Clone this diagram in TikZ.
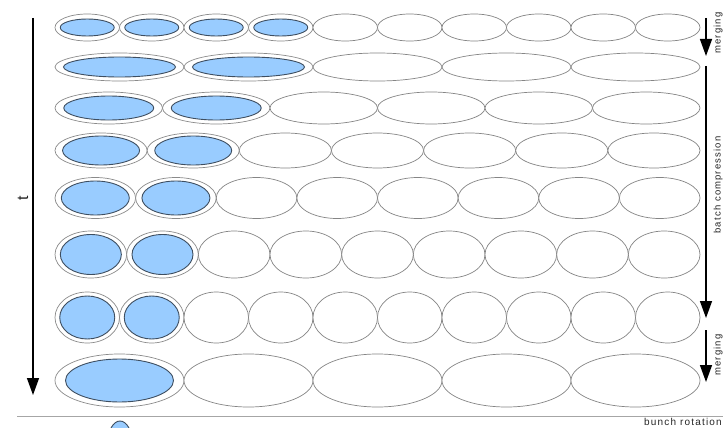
\documentclass[tikz,border=0pt]{standalone}
\usepackage{fontspec}
\newfontfamily\lab[LetterSpace=12]{Liberation Sans}
\usetikzlibrary{shapes.geometric,arrows.meta}
\definecolor{bunchblue}{HTML}{99CCFF}
\definecolor{bunchedge}{HTML}{3E4E60}
\definecolor{ringgray}{HTML}{8A8A8A}
\definecolor{slotgray}{HTML}{858585}
\begin{document}
\begin{tikzpicture}[x=1pt,y=1pt,
  slot/.style={ellipse, draw=slotgray, line width=0.7pt, fill=white, inner sep=0pt, outer sep=0pt},
  ring/.style={ellipse, draw=ringgray, line width=0.7pt, fill=white, inner sep=0pt, outer sep=0pt},
  bunch/.style={ellipse, draw=bunchedge, line width=0.9pt, fill=bunchblue, inner sep=0pt, outer sep=0pt},
  flowarrow/.style={line width=1.4pt, -{Triangle[length=17pt,width=12pt]}},
  lbl/.style={font=\lab\fontsize{11}{13}\selectfont, text=black!85, inner sep=0pt},
  sidelbl/.style={font=\lab\fontsize{9.5}{11}\selectfont, text=black!85, inner sep=0pt, rotate=90, anchor=base}
]
\fill[white] (0,0) rectangle (723,-428);
\useasboundingbox (0,0) rectangle (723,-428);

\foreach \r/\yy/\hh/\n/\nb/\iw/\ih in {1/27.5/27/10/4/54/17, 2/67/28/5/2/112/20, 3/108/32/6/2/90/24, 4/150.5/35/7/2/77/29, 5/198/41/8/2/68/34, 6/254.5/47/9/2/61/40, 7/317.5/51/10/2/55/43, 8/380.5/53/5/1/108/43}{
  \pgfmathsetmacro\w{645/\n}
  \foreach \i in {1,...,\n}{
    \pgfmathsetmacro\cx{55+(\i-0.5)*\w}
    \ifnum\i>\nb
      \node[slot, minimum width=\w pt, minimum height=\hh pt] (s\r-\i) at (\cx,-\yy) {};
    \else
      \node[ring, minimum width=\w pt, minimum height=\hh pt] (s\r-\i) at (\cx,-\yy) {};
      \node[bunch, minimum width=\iw pt, minimum height=\ih pt] (b\r-\i) at (\cx,-\yy) {};
    \fi
  }
}

% time axis
\coordinate (tTop) at (33,-18);
\coordinate (tEnd) at (33,-395);
\draw[flowarrow] (tTop) -- (tEnd);
\node[lbl, font=\lab\fontsize{16}{18}\selectfont, rotate=90, anchor=base] (tlab) at (28,-198) {t};

% right-hand process arrows
\coordinate (m1a) at (706,-18);
\coordinate (m1b) at (706,-56);
\coordinate (c1a) at (706,-66);
\coordinate (c1b) at (706,-318);
\coordinate (m2a) at (706,-330);
\coordinate (m2b) at (706,-382);
\draw[flowarrow] (m1a) -- (m1b);
\draw[flowarrow] (c1a) -- (c1b);
\draw[flowarrow] (m2a) -- (m2b);
\node[sidelbl] (mtop) at (720.5,-33) {merging};
\node[sidelbl] (bc) at (720.5,-185) {batch compression};
\node[sidelbl] (mbot) at (720.5,-355) {merging};

% separator and legend
\coordinate (sepL) at (17,-416);
\coordinate (sepR) at (723,-416);
\draw[gray!70, line width=1pt] (sepL) -- (sepR);
\node[bunch, minimum width=24pt, minimum height=42pt] (rot) at (120,-442) {};
\node[lbl, font=\lab\fontsize{10}{12}\selectfont, anchor=base east] (br) at (722,-425) {bunch rotation};
\end{tikzpicture}
\end{document}
